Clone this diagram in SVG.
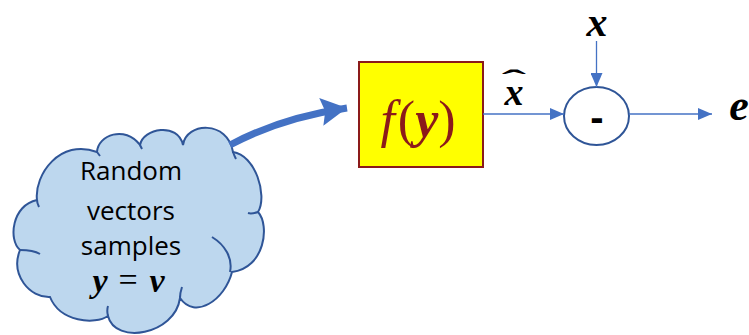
<svg xmlns="http://www.w3.org/2000/svg" width="749" height="335" viewBox="0 0 749 335">
<style>
.cloud{fill:#BDD7EE;stroke:#2F5597;stroke-width:2}
.inner{fill:none;stroke:#2F5597;stroke-width:2}
.lbl{font-family:"Open Sans","Liberation Sans",sans-serif;font-size:26px;fill:#000;text-anchor:middle}
.math{font-family:"Liberation Serif","DejaVu Serif",serif;font-style:italic;font-weight:bold;fill:#000;text-anchor:middle}
.conn{fill:none;stroke:#4472C4;stroke-width:1.3}
</style>
<defs>
<marker id="ah" viewBox="0 0 14 12" refX="14" refY="6" markerWidth="14" markerHeight="12" markerUnits="userSpaceOnUse" orient="auto">
<path d="M0,0 L14,6 L0,12 Z" fill="#4472C4"/>
</marker>
<marker id="ahb" viewBox="0 0 28 28" refX="26" refY="14" markerWidth="28" markerHeight="28" markerUnits="userSpaceOnUse" orient="auto">
<path d="M0,0 L26,14 L0,28 L4,14 Z" fill="#4472C4"/>
</marker>
</defs>
<g id="cloud">
<path class="cloud" d="M37 200 C34 175,60 138,97 152 C98 135,125 125,140 145 C143 128,178 122,183 145 C186 122,228 120,233 152 C255 155,268 195,258 212 C270 225,265 268,232 272 C225 300,195 320,180 298 C175 335,115 345,108 316 C95 325,60 322,50 297 C30 298,10 275,20 250 C8 240,12 205,37 200 Z"/>
<path class="inner" d="M212 237 C225 245,233 258,230 272 M20 250 C28 250,35 251,40 254 M37 200 C37 203,38 205,39 207 M108 316 C107 312,107 309,108 306 M180 298 C180 294,181 290,182 287 M258 212 C255 213,251 214,248 213 M233 152 C234 155,235 157,236 159 M97 152 L100 156 M140 145 L142 149"/>
<text class="lbl" x="131" y="180">Random</text>
<text class="lbl" x="131" y="220">vectors</text>
<text class="lbl" x="131" y="255">samples</text>
<text class="math" x="100" y="292" font-size="34">y</text>
<text x="128" y="291" text-anchor="middle" style="font-family:'Liberation Serif','DejaVu Serif',serif;font-size:34px">=</text>
<text class="math" x="157" y="292" font-size="34">v</text>
</g>
<g id="f">
<rect x="359" y="62" width="124" height="105" fill="#FFFF00" stroke="#8B1A1A" stroke-width="2"/>
<text x="418" y="137" text-anchor="middle" style="font-family:'Liberation Serif','DejaVu Serif',serif;font-size:52px;fill:#8B1A1A"><tspan font-style="italic">f</tspan><tspan dx="3">(</tspan><tspan font-style="italic" font-weight="bold">y</tspan>)</text>
</g>
<g id="sum">
<ellipse cx="596.5" cy="116" rx="32.5" ry="29" fill="#FFFFFF" stroke="#2F5597" stroke-width="2"/>
<text x="597" y="131" text-anchor="middle" style="font-family:'Liberation Sans',sans-serif;font-weight:bold;font-size:40px">-</text>
</g>
<g id="labels">
<text class="math" x="514" y="105" font-size="38">x</text>
<text x="0" y="0" text-anchor="middle" transform="translate(514 89) scale(2.6 1)" style="font-family:'Liberation Serif',serif;font-size:28px;font-weight:bold">ˆ</text>
<text class="math" x="597" y="36" font-size="42">x</text>
<text class="math" x="739" y="120" font-size="44">e</text>
</g>
<g id="connectors">
<path class="conn" d="M230 145 Q280 118 347 108" style="stroke-width:7" marker-end="url(#ahb)"/>
<path class="conn" d="M483 114 L564 114" marker-end="url(#ah)"/>
<path class="conn" d="M596.5 41 L596.5 87" marker-end="url(#ah)"/>
<path class="conn" d="M629 114 L712 114" marker-end="url(#ah)"/>
</g>
</svg>
